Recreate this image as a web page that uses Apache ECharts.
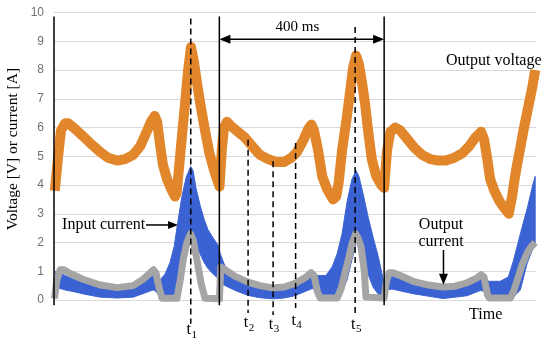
<!DOCTYPE html>
<html>
<head>
<meta charset="utf-8">
<script src="https://cdn.jsdelivr.net/npm/echarts@6/dist/echarts.min.js"></script>
<style>
html,body{margin:0;padding:0;background:#fff;}
#chart{width:550px;height:343px;}
</style>
</head>
<body>
<div id="chart"></div>
<script>
// ---- data (time in ms) ----
const voltageTime = [2,10,17,27,34,51,70,92,112,131,153,172,192,209,223,235,244,250,257,264,274,284,293,297,303,310,318,325,332,339,347,356,366,376,386,395,401,
402,407,412,419,429,446,463,480,499,519,538,558,575,589,604,616,624,630,640,650,662,676,684,690,698,709,718,725,732,739,747,754,761,770,781,793,800,
802,807,815,827,839,856,873,892,912,931,950,970,989,1006,1021,1035,1042,1050,1057,1067,1079,1091,1102,1110,1115,1122,1130,1139,1149,1159,1166];
const outputVoltage = [3.8,5.0,5.9,6.15,6.15,5.95,5.7,5.4,5.15,4.95,4.85,4.9,5.05,5.35,5.8,6.2,6.4,6.2,5.4,4.7,4.2,3.85,3.6,3.7,4.6,5.7,6.9,8.0,8.8,8.3,7.5,6.7,5.9,5.15,4.6,4.2,3.95,
3.95,5.3,6.0,6.2,6.05,5.85,5.65,5.35,5.05,4.9,4.8,4.8,4.95,5.15,5.55,5.95,6.1,5.9,5.2,4.3,3.85,3.5,3.6,4.1,5.2,6.3,7.3,8.1,8.5,8.2,7.5,6.8,5.9,4.9,4.3,4.0,3.9,
3.9,5.2,5.85,6.0,5.9,5.6,5.3,5.05,4.9,4.85,4.85,4.95,5.1,5.35,5.65,5.85,5.6,4.9,4.2,3.8,3.45,3.2,3.0,3.6,4.1,4.7,5.3,6.0,6.7,7.4,8.0];

const outputCurrentTime = [1,7,15,24,39,70,112,153,192,216,233,241,247,255,262,298,306,313,322,331,337,347,356,366,401,
404,415,439,470,499,529,558,584,609,623,630,638,645,686,696,706,715,722,731,737,744,752,756,800,
802,805,812,822,839,870,907,943,972,1001,1023,1035,1042,1050,1055,1106,1115,1125,1135,1147,1156,1166];
const outputCurrent = [0.05,0.7,1.05,1.05,0.92,0.72,0.52,0.43,0.5,0.72,0.95,1.05,0.95,0.4,0.06,0.06,0.7,1.4,2.0,2.3,2.1,1.35,0.6,0.06,0.04,
1.15,1.05,0.82,0.62,0.5,0.42,0.45,0.58,0.78,0.95,0.85,0.3,0.07,0.07,0.4,1.0,1.5,1.95,2.3,2.15,1.85,1.0,0.1,0.07,
0.1,0.6,0.95,0.95,0.85,0.65,0.52,0.45,0.48,0.6,0.75,0.88,0.8,0.2,0.07,0.07,0.35,0.8,1.25,1.65,1.85,2.0];

const inputCurrentTime = [1,4,15,27,51,75,112,153,192,221,240,247,257,269,281,291,301,310,320,331,337,344,354,364,373,386,398,
402,415,439,470,499,529,558,584,609,626,635,645,659,674,686,698,710,722,732,739,749,761,773,786,795,800,
801,805,819,870,943,1001,1033,1045,1055,1081,1101,1113,1130,1147,1161,1166];
const inputCurrentLow = [0.05,0.35,0.4,0.35,0.28,0.2,0.1,0.07,0.1,0.25,0.35,0.3,0.1,0.08,0.1,0.15,0.4,0.9,1.5,2.1,2.2,1.9,1.6,1.3,1.1,0.9,0.75,
0.6,0.5,0.33,0.16,0.08,0.04,0.07,0.15,0.3,0.4,0.3,0.15,0.1,0.1,0.12,0.25,0.7,1.4,2.0,2.0,1.5,0.9,0.45,0.2,0.08,0.05,
0.08,0.35,0.38,0.22,0.05,0.15,0.33,0.3,0.1,0.08,0.1,0.1,0.35,1.3,1.8,1.9];
const inputCurrentHigh = [0.15,1.0,0.95,0.85,0.7,0.6,0.42,0.38,0.42,0.65,0.85,0.8,0.7,0.9,1.3,1.85,2.8,3.6,4.25,4.65,4.5,3.9,3.3,2.8,2.45,2.15,1.9,
1.65,1.15,0.78,0.48,0.4,0.32,0.38,0.5,0.7,0.85,0.85,0.85,0.85,1.15,1.6,2.3,3.4,4.2,4.5,4.3,3.7,2.9,2.2,1.5,0.9,0.55,
0.3,0.9,0.82,0.56,0.33,0.5,0.74,0.7,0.65,0.65,0.8,1.35,2.3,3.2,4.05,4.3];

const yTicks = [0,1,2,3,4,5,6,7,8,9,10];
const periodBoundaries = [0, 400.7, 800];       // ms (solid lines)
const instantNames = ['1','2','3','4','5'];
const instantTimes = [331.4, 470.3, 530.9, 585.5, 729.7]; // t1..t5 in ms

// ---- chart ----
const chart = echarts.init(document.getElementById('chart'), null, {renderer:'canvas'});
const SERIF = '"Liberation Serif", "Times New Roman", serif';

chart.setOption({
  animation: false,
  grid: {left: 54, right: 14, top: 12.5, bottom: 43, containLabel: false},
  xAxis: {type: 'value', min: 0, max: 1168, show: false},
  yAxis: {
    type: 'value', min: yTicks[0], max: yTicks[yTicks.length-1], interval: 1,
    axisLine: {show: false}, axisTick: {show: false},
    axisLabel: {color: '#6f6f6f', fontSize: 12, fontFamily: '"Liberation Sans", Arial, sans-serif', margin: 10},
    splitLine: {show: true, lineStyle: {color: '#d9d9d9', width: 1}}
  },
  series: [
    {
      type: 'custom', name: 'Input current', silent: true, z: 2,
      data: inputCurrentTime.map((t,i) => [t, inputCurrentLow[i], inputCurrentHigh[i]]),
      encode: {x: 0, y: [1, 2]},
      renderItem: function (params, api) {
        if (params.dataIndex !== 0) return null;
        const pts = [];
        for (let i = 0; i < inputCurrentTime.length; i++) pts.push(api.coord([inputCurrentTime[i], inputCurrentHigh[i]]));
        for (let i = inputCurrentTime.length - 1; i >= 0; i--) pts.push(api.coord([inputCurrentTime[i], inputCurrentLow[i]]));
        return {type: 'polygon', shape: {points: pts}, style: {fill: '#3b62d2', stroke: '#3b62d2', lineWidth: 1}};
      }
    },
    {
      type: 'line', name: 'Output current', z: 3, showSymbol: false, silent: true,
      data: outputCurrentTime.map((t,i) => [t, outputCurrent[i]]),
      lineStyle: {color: '#a5a5a5', width: 7, join: 'round'}
    },
    {
      type: 'line', name: 'Output voltage', z: 4, showSymbol: false, silent: true,
      data: voltageTime.map((t,i) => [t, outputVoltage[i]]),
      lineStyle: {color: '#e2862b', width: 10, join: 'round'}
    }
  ]
});

// ---- annotations anchored to the data coordinates ----
const P = (t, v) => chart.convertToPixel({gridIndex: 0}, [t, v]);
const els = [];
function seg(a, b, dashed, w) {
  els.push({type: 'line', z: 20, silent: true,
    shape: {x1: a[0], y1: a[1], x2: b[0], y2: b[1]},
    style: {stroke: '#000', lineWidth: w || 1.5, lineDash: dashed ? [6, 4] : null}});
}
function head(tip, dir, len, half) {
  const bx = tip[0] - dir[0]*len, by = tip[1] - dir[1]*len;
  const nx = -dir[1], ny = dir[0];
  els.push({type: 'polygon', z: 21, silent: true,
    shape: {points: [[tip[0], tip[1]], [bx + nx*half, by + ny*half], [bx - nx*half, by - ny*half]]},
    style: {fill: '#000'}});
}
function txt(p, s, align, size, extra) {
  els.push(Object.assign({type: 'text', z: 22, silent: true, x: p[0], y: p[1],
    style: {text: s, fill: '#000', font: (size || 16) + 'px ' + SERIF,
      align: align || 'center', verticalAlign: 'middle', textAlign: align || 'center', textVerticalAlign: 'middle'}}, extra || {}));
}

periodBoundaries.forEach(t => seg(P(t, 9.86), P(t, -0.18), false, 1.5));
const dashTop = [9.79, 5.57, 4.83, 5.46, 9.5];
const dashBottom = [-0.83, -0.45, -0.52, -0.28, -0.58];
instantTimes.forEach((t, i) => seg(P(t, dashTop[i]), P(t, dashBottom[i]), true, 1.5));
const labelV = [-1.1, -0.86, -0.92, -0.78, -0.92];
instantTimes.forEach((t, i) => {
  const p = P(t, labelV[i]);
  txt([p[0] - 2, p[1] - 2], 't', 'center', 16);
  txt([p[0] + 3.5, p[1] + 3], instantNames[i], 'center', 11);
});

const a1 = P(periodBoundaries[1], 9.07), a2 = P(periodBoundaries[2], 9.07);
seg([a1[0] + 8, a1[1]], [a2[0] - 8, a2[1]], false, 1.5);
head(a1, [-1, 0], 11, 4.5);
head(a2, [1, 0], 11, 4.5);
txt(P(590, 9.5), '400 ms', 'center', 15);

const ic0 = P(223, 2.61), ic1 = P(300.6, 2.61);
txt(P(221, 2.61), 'Input current', 'right', 16);
seg(ic0, [ic1[0] - 8, ic1[1]], false, 1.5);
head(ic1, [1, 0], 10, 4);

txt(P(950, 8.31), 'Output voltage', 'left', 16);

txt(P(938, 2.61), 'Output', 'center', 16);
txt(P(938, 2.03), 'current', 'center', 16);
const oc0 = P(943.8, 1.74), oc1 = P(943.8, 0.53);
seg(oc0, [oc1[0], oc1[1] - 8], false, 1.5);
head(oc1, [0, 1], 11, 4.5);

txt(P(1046, -0.52), 'Time', 'center', 16);

const yt = P(0, 5.25);
els.push({type: 'text', z: 22, silent: true, x: 13, y: yt[1], rotation: Math.PI/2,
  style: {text: 'Voltage [V] or current [A]', fill: '#000', font: '15.5px ' + SERIF,
    align: 'center', verticalAlign: 'middle', textAlign: 'center', textVerticalAlign: 'middle'}});

chart.setOption({graphic: {elements: els}});
</script>
</body>
</html>
